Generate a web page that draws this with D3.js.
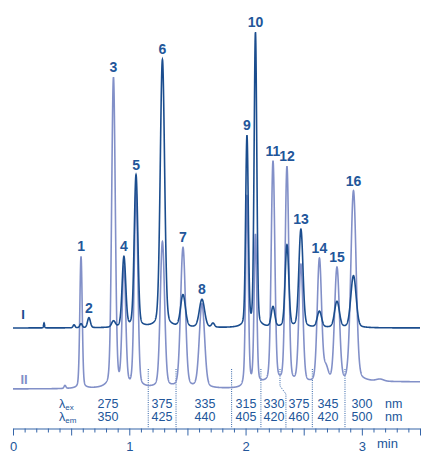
<!DOCTYPE html>
<html>
<head>
<meta charset="utf-8">
<script src="https://cdn.jsdelivr.net/npm/d3@7/dist/d3.min.js"></script>
<style>
  body { margin: 0; background: #fff; }
  svg { display: block; font-family: "Liberation Sans", Arial, Helvetica, sans-serif; }
</style>
</head>
<body>
<div id="chart"></div>
<script>
// numbered peaks: id, retention time (min), width (sigma, min), height in trace I and trace II
var peakIds    = ["1", "2", "3", "4", "5", "6", "7", "8", "9", "10", "11", "12", "13", "14", "15", "16"];
var peakTimes  = [0.585, 0.653, 0.864, 0.954, 1.058, 1.285, 1.462, 1.625, 2.012, 2.085, 2.236, 2.356, 2.476, 2.635, 2.786, 2.928];
var peakSigma  = [0.010, 0.012, 0.015, 0.015, 0.015, 0.018, 0.020, 0.022, 0.011, 0.011, 0.015, 0.015, 0.017, 0.018, 0.020, 0.022];
var heightsI   = [4, 10, 6, 70, 152, 268, 32, 28, 190, 294, 20, 82, 98, 16, 26, 52];
var heightsII  = [132, 0, 310, 118, 194, 146, 140, 84, 188, 148, 222, 216, 118, 124, 115, 190];

// small unnumbered bumps
var bumpTimes = [0.267, 0.447, 0.525, 1.72, 2.69, 3.156];
var bumpSigma = [0.004, 0.008, 0.008, 0.012, 0.02, 0.03];
var bumpI     = [5, 0, 3, 4, 0, 0];
var bumpII    = [0, 3, 0, 0, 14, 2];

// baseline steps of trace II (gradient changes)
var stepTimes = [1.975, 2.87];
var stepII    = [4, 3];
var offsetI   = 61;

// wavelength programme
var switchTimes  = [1.163, 1.402, 1.880, 2.132, 2.347, 2.574, 2.855];
var switchTops   = [1.163, 1.402, 1.880, 2.132, 2.296, 2.574, 2.855];
var colTimes     = [0.817, 1.281, 1.651, 2.003, 2.244, 2.459, 2.709, 3.001];
var exLabels     = ["275", "375", "335", "315", "330", "375", "345", "300"];
var emLabels     = ["350", "425", "440", "405", "420", "460", "420", "500"];

var width = 426, height = 458;
var dark = "#1b4d8e", light = "#8290c8", textBlue = "#22569a", axisBlue = "#3565a8";

var svg = d3.select("#chart").append("svg")
  .attr("width", width)
  .attr("height", height);

var x = d3.scaleLinear().domain([0, 3.5]).range([13, 420]);
var y = d3.scaleLinear().domain([0, 360]).range([389, 29]);

function peakShape(t, t0, s) {
  var d = (t - t0) / s;
  // mostly gaussian with a small lorentzian skirt
  return 0.9 * Math.exp(-0.5 * d * d) + 0.1 / (1 + d * d / 4);
}

function signal(t, heights, bumps, trace) {
  var v = 0;
  peakTimes.forEach(function(t0, i) { v += heights[i] * peakShape(t, t0, peakSigma[i]); });
  bumpTimes.forEach(function(t0, i) { v += bumps[i] * peakShape(t, t0, bumpSigma[i]); });
  if (trace == 2) {
    stepTimes.forEach(function(t0, i) { v += stepII[i] / (1 + Math.exp(-(t - t0) / 0.006)); });
  } else {
    v += offsetI;
  }
  return v;
}

var times = d3.range(0, 3.5005, 0.001);
var line = d3.line().x(function(d) { return x(d[0]); }).y(function(d) { return y(d[1]); });

var dataII = times.map(function(t) { return [t, signal(t, heightsII, bumpII, 2)]; });
var dataI = times.map(function(t) { return [t, signal(t, heightsI, bumpI, 1)]; });

// dotted switch lines
switchTimes.forEach(function(t, i) {
  var pts = [[x(switchTops[i]), 369], [x(switchTops[i]), 386], [x(t), 394], [x(t), 428]];
  if (switchTops[i] == t) pts = [[x(t), 369], [x(t), 428]];
  svg.append("path")
    .attr("d", d3.line()(pts))
    .attr("fill", "none")
    .attr("stroke", axisBlue)
    .attr("stroke-width", 1)
    .attr("stroke-dasharray", "1,1.2");
});

svg.append("path")
  .datum(dataII)
  .attr("d", line)
  .attr("fill", "none")
  .attr("stroke", light)
  .attr("stroke-width", 1.6);

svg.append("path")
  .datum(dataI)
  .attr("d", line)
  .attr("fill", "none")
  .attr("stroke", dark)
  .attr("stroke-width", 1.6);

// peak labels above the higher of the two traces
peakIds.forEach(function(id, i) {
  var t = peakTimes[i];
  var top = Math.max(signal(t, heightsI, bumpI, 1), signal(t, heightsII, bumpII, 2));
  svg.append("text")
    .attr("x", x(t))
    .attr("y", y(top) - 5)
    .attr("text-anchor", "middle")
    .attr("font-size", 14)
    .attr("font-weight", "bold")
    .attr("fill", textBlue)
    .text(id);
});

// trace names
svg.append("text").attr("x", 23).attr("y", 319).attr("text-anchor", "middle")
  .attr("font-size", 13).attr("font-weight", "bold").attr("fill", dark).text("I");
svg.append("text").attr("x", 24).attr("y", 384).attr("text-anchor", "middle")
  .attr("font-size", 13).attr("font-weight", "bold").attr("fill", light).text("II");

// wavelength table
var lam = svg.append("g").attr("fill", textBlue).attr("font-size", 12.5);
lam.append("text").attr("x", 59).attr("y", 407.5).html('λ<tspan font-size="8" dy="2">ex</tspan>');
lam.append("text").attr("x", 59).attr("y", 420.5).html('λ<tspan font-size="8" dy="2">em</tspan>');
colTimes.forEach(function(t, i) {
  lam.append("text").attr("x", x(t)).attr("y", 407.5).attr("text-anchor", "middle").text(exLabels[i]);
  lam.append("text").attr("x", x(t)).attr("y", 420.5).attr("text-anchor", "middle").text(emLabels[i]);
});
lam.append("text").attr("x", 385).attr("y", 407.5).text("nm");
lam.append("text").attr("x", 385).attr("y", 420.5).text("nm");

// time axis
var tickVals = d3.range(0, 36).map(function(d) { return d / 10; });
var axis = svg.append("g")
  .attr("transform", "translate(0,428.5)")
  .call(d3.axisBottom(x).tickValues(tickVals).tickSize(4).tickSizeOuter(0)
    .tickFormat(function(d) { return Math.abs(d - Math.round(d)) < 1e-6 ? d3.format("d")(d) : ""; }));
axis.select(".domain").attr("stroke", axisBlue).attr("stroke-width", 1.2);
axis.selectAll(".tick line")
  .attr("stroke", axisBlue)
  .attr("stroke-width", 1)
  .attr("y2", function(d) { return Math.abs(d * 2 - Math.round(d * 2)) < 1e-6 ? 7 : 4; });
axis.selectAll(".tick text")
  .attr("fill", textBlue)
  .attr("font-size", 13)
  .attr("font-family", "Liberation Sans, Arial, sans-serif")
  .attr("dy", "1.2em");
svg.append("text").attr("x", 377).attr("y", 448).attr("fill", textBlue)
  .attr("font-size", 13).text("min");
</script>
</body>
</html>
